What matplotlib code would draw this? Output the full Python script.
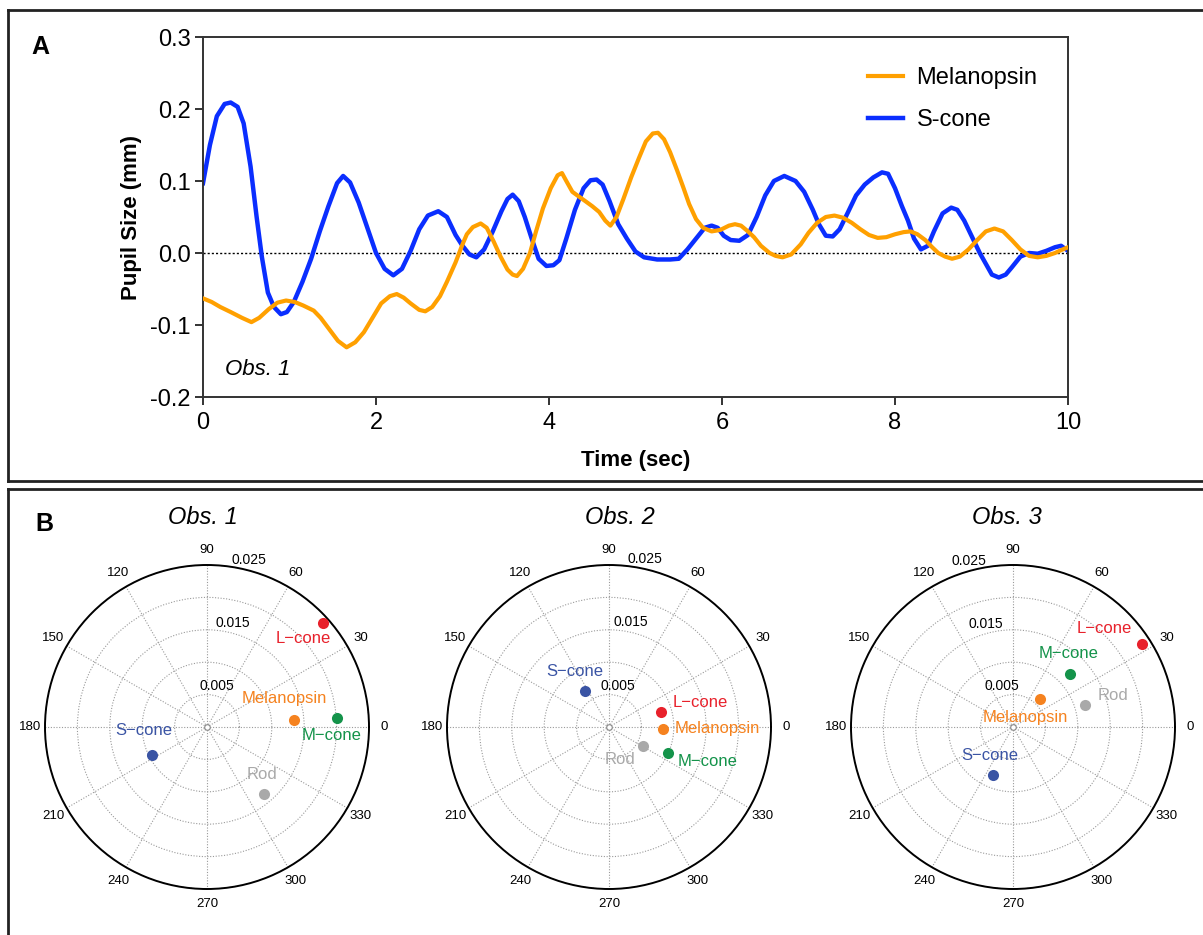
import numpy as np
import matplotlib
matplotlib.use("Agg")
import matplotlib.pyplot as plt
from matplotlib.lines import Line2D
from matplotlib.ticker import FormatStrFormatter

plt.rcParams['font.family'] = ['Liberation Sans', 'DejaVu Sans']
plt.rcParams['axes.unicode_minus'] = False

# ---------------- Panel A data ----------------
s_cone_t = [0.00, 0.08, 0.16, 0.25, 0.32, 0.40, 0.47, 0.55, 0.62, 0.68, 0.75, 0.82, 0.90, 0.97,
            1.05, 1.15, 1.25, 1.35, 1.45, 1.55, 1.62, 1.70, 1.80, 1.90, 2.00, 2.10, 2.20, 2.30,
            2.40, 2.50, 2.60, 2.72, 2.82, 2.92, 3.00, 3.08, 3.16, 3.25, 3.35, 3.45, 3.52, 3.58,
            3.65, 3.72, 3.80, 3.88, 3.97, 4.05, 4.12, 4.20, 4.30, 4.40, 4.48, 4.55, 4.62, 4.70,
            4.80, 4.90, 5.00, 5.10, 5.25, 5.40, 5.50, 5.60, 5.70, 5.80, 5.88, 5.95, 6.02, 6.10,
            6.20, 6.30, 6.40, 6.50, 6.60, 6.72, 6.85, 6.95, 7.05, 7.12, 7.20, 7.28, 7.36, 7.45,
            7.55, 7.65, 7.75, 7.85, 7.92, 8.00, 8.08, 8.15, 8.22, 8.30, 8.38, 8.45, 8.55, 8.65,
            8.72, 8.80, 8.90, 8.98, 9.05, 9.12, 9.20, 9.28, 9.35, 9.45, 9.55, 9.65, 9.75, 9.85,
            9.92, 10.00]
s_cone_y = [0.097, 0.150, 0.190, 0.207, 0.209, 0.203, 0.180, 0.120, 0.050, -0.005, -0.055, -0.075, -0.085, -0.082,
            -0.068, -0.040, -0.008, 0.030, 0.065, 0.097, 0.107, 0.098, 0.070, 0.035, 0.000, -0.022, -0.031, -0.022,
            0.003, 0.033, 0.052, 0.058, 0.050, 0.025, 0.010, -0.002, -0.006, 0.005, 0.030, 0.058, 0.075, 0.081,
            0.072, 0.050, 0.020, -0.008, -0.018, -0.017, -0.010, 0.020, 0.060, 0.090, 0.101, 0.102, 0.095, 0.072,
            0.040, 0.020, 0.002, -0.006, -0.009, -0.009, -0.008, 0.005, 0.020, 0.035, 0.038, 0.035, 0.024, 0.018,
            0.017, 0.025, 0.050, 0.080, 0.100, 0.107, 0.100, 0.085, 0.060, 0.040, 0.024, 0.023, 0.033, 0.055,
            0.080, 0.095, 0.105, 0.112, 0.110, 0.090, 0.065, 0.045, 0.020, 0.005, 0.010, 0.030, 0.055, 0.063,
            0.060, 0.045, 0.020, 0.000, -0.015, -0.030, -0.034, -0.030, -0.020, -0.005, 0.000, -0.001, 0.003, 0.008,
            0.010, 0.003]

mel_t = [0.00, 0.10, 0.20, 0.32, 0.45, 0.56, 0.65, 0.76, 0.86, 0.96, 1.06, 1.16, 1.28, 1.36,
         1.46, 1.56, 1.66, 1.76, 1.86, 1.96, 2.06, 2.16, 2.24, 2.32, 2.40, 2.50, 2.57, 2.65,
         2.74, 2.82, 2.92, 3.00, 3.05, 3.12, 3.21, 3.28, 3.36, 3.44, 3.52, 3.58, 3.63, 3.70,
         3.78, 3.85, 3.93, 4.02, 4.10, 4.15, 4.20, 4.27, 4.35, 4.42, 4.50, 4.58, 4.65, 4.71,
         4.78, 4.86, 4.95, 5.04, 5.12, 5.20, 5.26, 5.33, 5.40, 5.48, 5.55, 5.62, 5.70, 5.78,
         5.88, 5.98, 6.08, 6.15, 6.22, 6.30, 6.37, 6.45, 6.55, 6.62, 6.70, 6.80, 6.91, 7.00,
         7.10, 7.20, 7.30, 7.40, 7.50, 7.60, 7.70, 7.80, 7.90, 8.00, 8.10, 8.18, 8.26, 8.35,
         8.43, 8.50, 8.58, 8.66, 8.75, 8.85, 8.95, 9.05, 9.15, 9.25, 9.35, 9.45, 9.55, 9.65,
         9.75, 9.85, 9.92, 10.00]
mel_y = [-0.063, -0.068, -0.075, -0.082, -0.090, -0.096, -0.090, -0.078, -0.069, -0.066, -0.068, -0.073, -0.080, -0.090,
         -0.106, -0.122, -0.131, -0.124, -0.110, -0.090, -0.070, -0.060, -0.057, -0.062, -0.070, -0.079, -0.081, -0.075,
         -0.060, -0.040, -0.013, 0.012, 0.026, 0.036, 0.041, 0.035, 0.016, -0.005, -0.023, -0.030, -0.032, -0.022,
         0.000, 0.030, 0.062, 0.090, 0.108, 0.111, 0.100, 0.085, 0.078, 0.072, 0.065, 0.057, 0.045, 0.038,
         0.050, 0.075, 0.105, 0.132, 0.155, 0.166, 0.167, 0.158, 0.140, 0.115, 0.092, 0.068, 0.047, 0.035,
         0.030, 0.032, 0.038, 0.040, 0.038, 0.030, 0.022, 0.010, 0.000, -0.004, -0.006, -0.002, 0.012, 0.028,
         0.042, 0.050, 0.052, 0.049, 0.042, 0.033, 0.025, 0.021, 0.022, 0.026, 0.029, 0.030, 0.026, 0.018,
         0.008, 0.000, -0.005, -0.008, -0.005, 0.005, 0.018, 0.030, 0.034, 0.030, 0.018, 0.005, -0.004, -0.006,
         -0.004, 0.000, 0.004, 0.008]

x_ticks = [0, 2, 4, 6, 8, 10]
y_ticks = [-0.2, -0.1, 0.0, 0.1, 0.2, 0.3]

# ---------------- Panel B data ----------------
photoreceptors = ['L\u2212cone', 'Melanopsin', 'M\u2212cone', 'S\u2212cone', 'Rod']
pr_colors = ['#e8212b', '#f5821f', '#14934a', '#3a54a4', '#a9a9a9']

obs_titles = ['Obs. 1', 'Obs. 2', 'Obs. 3']
obs1_angle = [42.0, 4.8, 4.0, 207.4, 310.4]
obs1_amp = [0.0240, 0.0134, 0.0201, 0.0095, 0.0135]
obs2_angle = [16.1, 358.2, 336.4, 123.9, 331.4]
obs2_amp = [0.0084, 0.00835, 0.00996, 0.00669, 0.0060]
obs3_angle = [32.7, 46.1, 43.1, 247.1, 17.1]
obs3_amp = [0.0237, 0.0059, 0.0120, 0.0080, 0.0116]

r_rings = [0.005, 0.010, 0.015, 0.020, 0.025]
r_labels = ['0.005', '', '0.015', '', '0.025']
theta_ticks = list(range(0, 360, 30))

# label offsets (pixels) and alignment per observer: L, Mel, M, S, Rod
label_offsets = [
    [(-19, -16, 'center'), (-9, 21, 'center'), (-5, -18, 'center'), (-9, 25, 'center'), (-2, 19, 'center')],
    [(11, 9, 'left'), (12, 0, 'left'), (9, -9, 'left'), (-10, 20, 'center'), (-23, -14, 'center')],
    [(-38, 16, 'center'), (-14, -18, 'center'), (-1, 20, 'center'), (-3, 19, 'center'), (13, 9, 'left')],
]
rlabel_angle = [76, 78, 105]

W, H = 1203, 935
fig = plt.figure(figsize=(W / 100, H / 100), dpi=100)

def fx(px):
    return px / W

def fy(py):
    return 1 - py / H

# frames
frame_kw = dict(color='#222222', lw=2.0, transform=fig.transFigure)
fig.add_artist(Line2D([fx(8), fx(1210)], [fy(10), fy(10)], **frame_kw))
fig.add_artist(Line2D([fx(8), fx(8)], [fy(10), fy(481)], **frame_kw))
fig.add_artist(Line2D([fx(8), fx(1210)], [fy(481), fy(481)], **frame_kw))
fig.add_artist(Line2D([fx(8), fx(1210)], [fy(489), fy(489)], **frame_kw))
fig.add_artist(Line2D([fx(8), fx(8)], [fy(489), fy(945)], **frame_kw))

# ---------------- Panel A ----------------
axA = fig.add_axes([fx(203), fy(397), fx(1068) - fx(203), fy(37) - fy(397)])
axA.axhline(0, color='black', lw=1.0, ls=(0, (1.5, 1.5)), zorder=1)
l_mel, = axA.plot(mel_t, mel_y, color='#ffa000', lw=3.0, label='Melanopsin', zorder=3)
l_s, = axA.plot(s_cone_t, s_cone_y, color='#0a2eff', lw=3.2, label='S-cone', zorder=2)
axA.set_xlim(0, 10)
axA.set_ylim(-0.2, 0.3)
axA.set_xticks(x_ticks)
axA.set_yticks(y_ticks)
axA.yaxis.set_major_formatter(FormatStrFormatter('%.1f'))
for sp in axA.spines.values():
    sp.set_color('#333333')
    sp.set_linewidth(1.4)
axA.tick_params(direction='out', length=6, width=1.4, color='#333333', labelsize=17, pad=3)
axA.tick_params(axis='x', pad=5)
axA.set_xlabel('Time (sec)', fontsize=16, fontweight='bold', labelpad=11)
axA.set_ylabel('Pupil Size (mm)', fontsize=16, fontweight='bold', labelpad=6)
axA.text(0.025, 0.06, 'Obs. 1', transform=axA.transAxes, fontsize=16, fontstyle='italic')
axA.legend(handles=[l_mel, l_s], labels=['Melanopsin', 'S-cone'], loc='upper left',
           bbox_to_anchor=((868 - 203) / 865, (397 - 67) / 360), frameon=False, fontsize=17,
           handlelength=1.5, handletextpad=0.55, labelspacing=0.85, borderaxespad=0, borderpad=0)
fig.text(fx(40), fy(47), 'A', fontsize=18, fontweight='bold', ha='center', va='center')
fig.text(fx(44), fy(524), 'B', fontsize=18, fontweight='bold', ha='center', va='center')

# ---------------- Panel B ----------------
centers = [(207, 727), (609, 727), (1013, 727)]
rad = 162
all_angles = [obs1_angle, obs2_angle, obs3_angle]
all_amps = [obs1_amp, obs2_amp, obs3_amp]
for k in range(3):
    cx, cy = centers[k]
    ax = fig.add_axes([fx(cx - rad), fy(cy + rad), 2 * rad / W, 2 * rad / H], projection='polar')
    ax.set_ylim(0, 0.025)
    ax.set_yticks(r_rings)
    ax.set_yticklabels([])
    ax.set_xticks(np.deg2rad(theta_ticks))
    ax.set_xticklabels([])
    ax.grid(True, color='#9a9a9a', lw=0.8, ls=(0, (1, 1.5)))
    ax.spines['polar'].set_color('black')
    ax.spines['polar'].set_linewidth(1.4)
    ax.tick_params(length=0)
    for th in theta_ticks:
        ax.text(np.deg2rad(th), 0.025 * 1.095, str(th), ha='center', va='center',
                fontsize=9.5, clip_on=False)
    for rr, lab in zip(r_rings, r_labels):
        if lab:
            ax.text(np.deg2rad(rlabel_angle[k]), rr + 0.0015, lab, ha='center', va='center',
                    fontsize=10, clip_on=False)
    ax.plot([0], [0], marker='o', ms=4, mfc='white', mec='#888888', mew=0.8, clip_on=False)
    th = np.deg2rad(all_angles[k])
    amp = all_amps[k]
    for i in range(len(photoreceptors)):
        ax.plot([th[i]], [amp[i]], 'o', ms=8, color=pr_colors[i], mec='none', clip_on=False, zorder=5)
        dx, dy, ha = label_offsets[k][i]
        ax.annotate(photoreceptors[i], (th[i], amp[i]), xytext=(dx, dy), textcoords='offset pixels',
                    ha=ha, va='center', fontsize=12, color=pr_colors[i], zorder=6)
    fig.text(fx([203, 620, 1007][k]), fy(518), obs_titles[k], fontsize=17, fontstyle='italic',
             ha='center', va='center')

fig.savefig('out.png', dpi=100)
